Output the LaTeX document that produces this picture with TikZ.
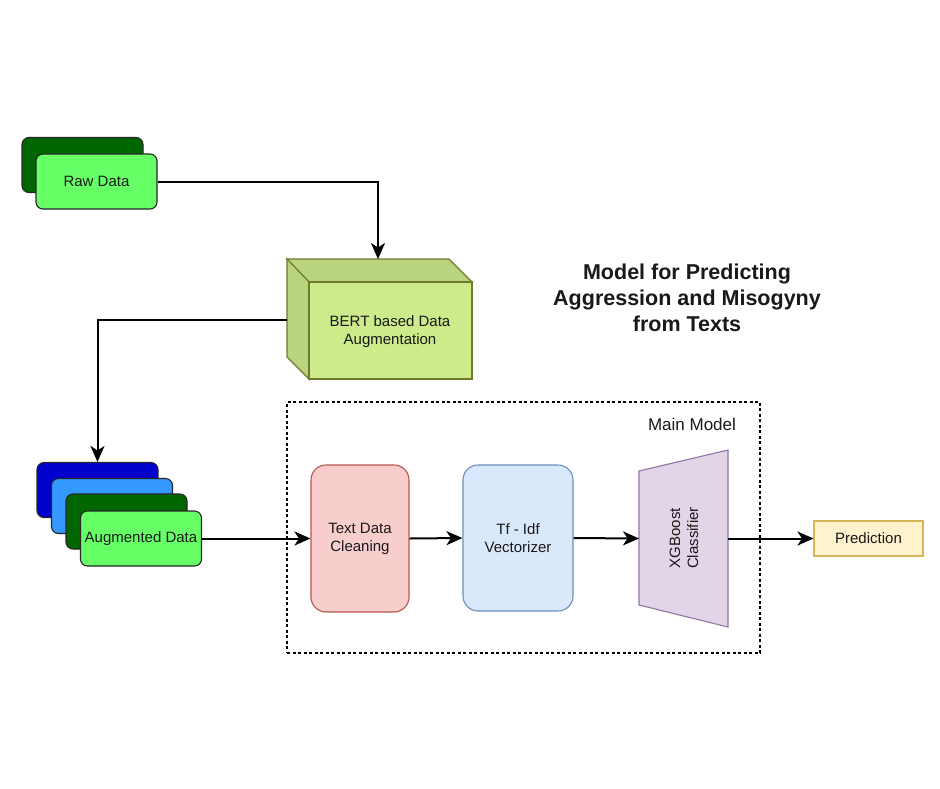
\documentclass[tikz,border=0pt]{standalone}
\usepackage{fontspec}
\setmainfont{Liberation Sans}
\usetikzlibrary{arrows.meta}
\definecolor{dkgreen}{HTML}{006600}
\definecolor{ltgreen}{HTML}{66FF66}
\definecolor{dkblue}{HTML}{0000CC}
\definecolor{ltblue}{HTML}{3399FF}
\definecolor{bertfront}{HTML}{CDEB8B}
\definecolor{bertside}{HTML}{B9D47D}
\definecolor{bertstroke}{HTML}{6D7A2C}
\definecolor{redfill}{HTML}{F8CECC}
\definecolor{redline}{HTML}{B85450}
\definecolor{bluefill}{HTML}{DAE8FC}
\definecolor{blueline}{HTML}{6C8EBF}
\definecolor{purpfill}{HTML}{E1D5E7}
\definecolor{purpline}{HTML}{9673A6}
\definecolor{yelfill}{HTML}{FFF2CC}
\definecolor{yelline}{HTML}{D6B656}
\begin{document}
\begin{tikzpicture}[x=1pt,y=-1pt,
  every node/.style={font=\fontsize{15}{18}\selectfont, text=black!90},
  stackbox/.style={draw=black!85, line width=1.1pt, rounded corners=7pt, minimum width=121pt, minimum height=55pt, inner sep=0pt},
  procbox/.style={line width=1.1pt, rounded corners=15pt, align=center, inner sep=0pt},
  conn/.style={line width=2pt, -{Stealth[length=16pt,width=14pt,inset=4.5pt]}},
]
\useasboundingbox (0,0) rectangle (940,788);
\fill[white] (0,0) rectangle (940,788);

% Raw data stack
\node[stackbox, fill=dkgreen] (rawback) at (82.5,165) {};
\node[stackbox, fill=ltgreen] (raw) at (96.5,181.5) {Raw Data};

% BERT cube
\node[minimum width=185pt, minimum height=120pt, inner sep=0pt] (bert) at (379.5,319) {};
\fill[bertside, draw=bertstroke, line width=1.1pt] (287,259) -- (449,259) -- (472,282) -- (309,282) -- cycle;
\fill[bertside, draw=bertstroke, line width=1.1pt] (287,259) -- (309,282) -- (309,379) -- (287,357) -- cycle;
\fill[bertfront, draw=bertstroke, line width=1.1pt] (309,282) rectangle (472,379);
\node[align=center] (berttext) at (390,332) {BERT based Data\\Augmentation};
\coordinate (bertTop) at (378,259);
\coordinate (bertL) at (287,320);

% Augmented data stack
\node[stackbox, fill=dkblue] (aug1) at (97.5,490) {};
\node[stackbox, fill=ltblue] (aug2) at (112,506) {};
\node[stackbox, fill=dkgreen] (aug3) at (126.5,521.5) {};
\node[stackbox, fill=ltgreen] (aug) at (141,538.5) {Augmented Data};

% Main model
\node[draw=black, line width=1.1pt, dash pattern=on 3pt off 2.5pt, minimum width=473pt, minimum height=251pt, inner sep=0pt] (mainmodel) at (523.5,527.5) {};
\node[font=\fontsize{17}{20}\selectfont] (mmlabel) at (692,424) {Main Model};

\node[procbox, draw=redline, fill=redfill, minimum width=98pt, minimum height=147pt] (clean) at (360,538.5) {Text Data\\Cleaning};
\node[procbox, draw=blueline, fill=bluefill, minimum width=110pt, minimum height=146pt] (tfidf) at (518,538) {Tf - Idf\\Vectorizer};

% XGBoost trapezoid
\fill[purpfill, draw=purpline, line width=1.1pt] (639,471) -- (728,450) -- (728,627) -- (639,605) -- cycle;
\node[rotate=90, align=center] (xgb) at (684,538) {XGBoost\\Classifier};
\coordinate (xgbL) at (639,538.5);
\coordinate (xgbR) at (728,538.5);

\node[draw=yelline, fill=yelfill, line width=1.1pt, minimum width=109pt, minimum height=35pt, inner sep=0pt] (pred) at (868.5,538.5) {Prediction};

% Title
\node[align=center, font=\fontsize{21.5}{26}\selectfont\bfseries] (title) at (687,298) {Model for Predicting\\Aggression and Misogyny\\from Texts};

% Connectors
\draw[conn] (raw.east) -| (bertTop);
\draw[conn] (bertL) -| (aug1.north);
\draw[conn] (aug.east) -- (clean.west);
\draw[conn] (clean.east) -- (tfidf.west);
\draw[conn] (tfidf.east) -- (xgbL);
\draw[conn] (xgbR) -- (pred.west);
\end{tikzpicture}
\end{document}
